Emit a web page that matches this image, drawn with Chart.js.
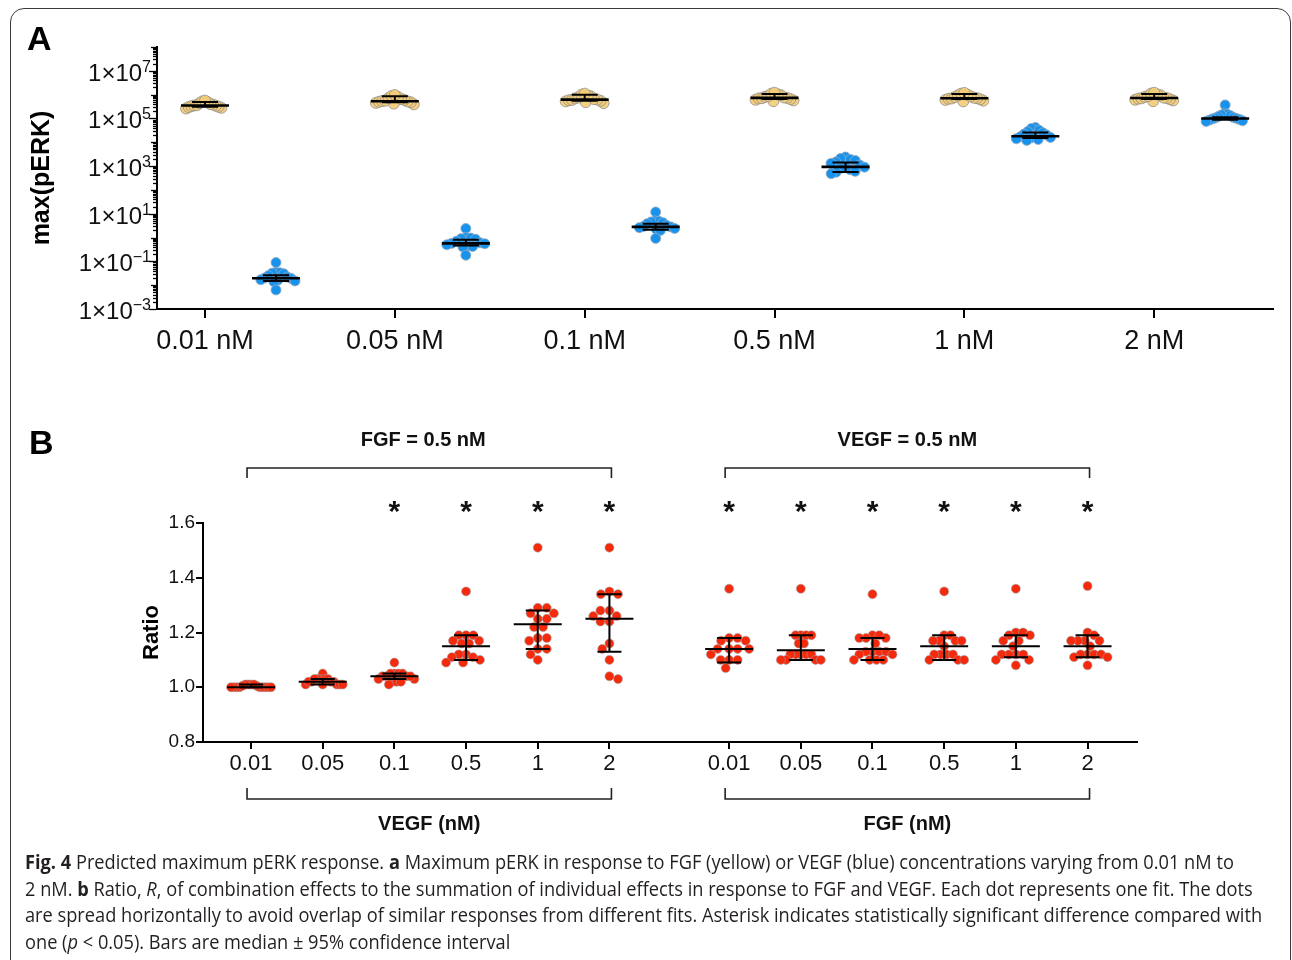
<!DOCTYPE html>
<html>
<head>
<meta charset="utf-8">
<script src="https://cdn.jsdelivr.net/npm/chart.js@4.4.1/dist/chart.umd.min.js"></script>
<style>
  html, body { margin: 0; padding: 0; background: #fff; }
  body { width: 1292px; height: 960px; position: relative; overflow: hidden; font-family: "Liberation Sans", Arial, sans-serif; }
  #frame { position: absolute; left: 10px; top: 8px; width: 1279px; height: 1000px; border: 1.5px solid #3a3a3a; border-radius: 14px; }
  canvas { position: absolute; left: 0; }
  #chartA { top: 0; }
  #chartB { top: 380px; }
  .panel { position: absolute; font-weight: bold; font-size: 34px; line-height: 1; color: #000; }
  #caption { position: absolute; left: 25px; top: 849px; font-family: "Open Sans", sans-serif; font-size: 19.5px; line-height: 26.7px; color: #231f20; transform-origin: 0 0; }
  #caption div { white-space: nowrap; }
</style>
</head>
<body>
<div id="frame"></div>
<canvas id="chartA" width="1292" height="380"></canvas>
<canvas id="chartB" width="1292" height="470"></canvas>
<div class="panel" style="left:27px; top:21px;">A</div>
<div class="panel" style="left:29px; top:425px;">B</div>
<div id="caption">
  <div id="capLine1"><b>Fig. 4</b> Predicted maximum pERK response. <b>a</b> Maximum pERK in response to FGF (yellow) or VEGF (blue) concentrations varying from 0.01 nM to</div>
  <div>2 nM. <b>b</b> Ratio, <i>R</i>, of combination effects to the summation of individual effects in response to FGF and VEGF. Each dot represents one fit. The dots</div>
  <div>are spread horizontally to avoid overlap of similar responses from different fits. Asterisk indicates statistically significant difference compared with</div>
  <div>one (<i>p</i> &lt; 0.05). Bars are median ± 95% confidence interval</div>
</div>
<script>
// ---- panel A: max(pERK) per concentration ----
const concLabels = ['0.01 nM', '0.05 nM', '0.1 nM', '0.5 nM', '1 nM', '2 nM'];
const logLabelExps = [-3, -1, 1, 3, 5, 7];

const fgfPoints = [
  [2.6e5, 2.8e5, 3.0e5, 3.1e5, 3.3e5, 3.4e5, 3.5e5, 3.6e5, 3.8e5, 4.0e5, 4.4e5, 4.8e5, 5.2e5, 5.6e5],
  [3.9e5, 4.2e5, 4.5e5, 4.8e5, 5.0e5, 5.2e5, 5.4e5, 5.6e5, 6.0e5, 6.5e5, 7.2e5, 8.0e5, 8.8e5, 9.6e5],
  [4.4e5, 4.8e5, 5.2e5, 5.5e5, 5.8e5, 6.0e5, 6.2e5, 6.5e5, 7.0e5, 7.6e5, 8.4e5, 9.2e5, 1.0e6, 1.1e6],
  [5.3e5, 5.7e5, 6.1e5, 6.5e5, 6.9e5, 7.1e5, 7.3e5, 7.6e5, 8.1e5, 8.7e5, 9.5e5, 1.03e6, 1.1e6, 1.2e6],
  [5.2e5, 5.6e5, 6.0e5, 6.4e5, 6.7e5, 6.9e5, 7.1e5, 7.4e5, 7.9e5, 8.5e5, 9.3e5, 1.0e6, 1.1e6, 1.18e6],
  [5.3e5, 5.7e5, 6.1e5, 6.4e5, 6.8e5, 7.0e5, 7.2e5, 7.5e5, 8.0e5, 8.6e5, 9.4e5, 1.02e6, 1.1e6, 1.2e6]
];
const fgfMedian = [3.5e5, 5.3e5, 6.2e5, 7.3e5, 7.1e5, 7.2e5];
const fgfLow = [3.1e5, 4.8e5, 5.6e5, 6.6e5, 6.5e5, 6.5e5];
const fgfHigh = [4.9e5, 8.5e5, 1.0e6, 1.07e6, 1.07e6, 1.07e6];

const vegfPoints = [
  [0.089, 0.035, 0.033, 0.032, 0.030, 0.025, 0.022, 0.020, 0.019, 0.017, 0.016, 0.015, 0.014, 0.0063],
  [2.4, 1.0, 0.95, 0.9, 0.85, 0.7, 0.6, 0.57, 0.55, 0.5, 0.45, 0.42, 0.4, 0.18],
  [11.8, 5.0, 4.8, 4.5, 4.2, 3.8, 3.2, 2.9, 2.8, 2.6, 2.4, 2.2, 2.0, 0.92],
  [2400, 2100, 1900, 1700, 1500, 1300, 1100, 950, 900, 800, 700, 600, 550, 480],
  [4.2e4, 3.8e4, 3.2e4, 2.8e4, 2.5e4, 2.2e4, 2.0e4, 1.8e4, 1.7e4, 1.6e4, 1.5e4, 1.4e4, 1.3e4, 1.2e4],
  [3.7e5, 1.6e5, 1.5e5, 1.4e5, 1.3e5, 1.2e5, 1.1e5, 1.05e5, 1.0e5, 0.95e5, 0.9e5, 0.85e5, 0.8e5, 0.75e5]
];
const vegfMedian = [0.0195, 0.57, 2.8, 930, 1.8e4, 1.0e5];
const vegfLow = [0.015, 0.46, 2.1, 560, 1.5e4, 0.88e5];
const vegfHigh = [0.026, 0.8, 3.8, 1420, 2.6e4, 1.12e5];

// ---- panel B: ratio ----
const doseLabels = ['0.01', '0.05', '0.1', '0.5', '1', '2'];
const fixedLabels = ['FGF = 0.5 nM', 'VEGF = 0.5 nM'];
const variedLabels = ['VEGF (nM)', 'FGF (nM)'];
const significant = [false, false, true, true, true, true, true, true, true, true, true, true];

const ratioPoints = [
  [1.00, 1.00, 1.00, 1.00, 1.00, 1.00, 1.00, 1.005, 1.01, 1.01, 1.01, 1.01, 1.00, 1.00, 1.005],
  [1.05, 1.03, 1.03, 1.03, 1.03, 1.02, 1.02, 1.02, 1.01, 1.01, 1.01, 1.01, 1.01, 1.02, 1.03],
  [1.09, 1.05, 1.05, 1.05, 1.05, 1.04, 1.04, 1.04, 1.03, 1.03, 1.02, 1.02, 1.02, 1.01, 1.04],
  [1.35, 1.19, 1.19, 1.19, 1.17, 1.17, 1.16, 1.16, 1.12, 1.12, 1.11, 1.11, 1.10, 1.09, 1.09],
  [1.51, 1.29, 1.29, 1.27, 1.27, 1.25, 1.25, 1.22, 1.22, 1.18, 1.18, 1.17, 1.14, 1.14, 1.12, 1.10],
  [1.51, 1.35, 1.34, 1.34, 1.28, 1.28, 1.26, 1.26, 1.24, 1.24, 1.16, 1.14, 1.10, 1.04, 1.03],
  [1.36, 1.18, 1.18, 1.17, 1.17, 1.14, 1.14, 1.14, 1.14, 1.12, 1.10, 1.10, 1.10, 1.07],
  [1.36, 1.19, 1.19, 1.19, 1.19, 1.16, 1.16, 1.12, 1.12, 1.12, 1.12, 1.12, 1.10, 1.10, 1.10, 1.10],
  [1.34, 1.19, 1.19, 1.18, 1.18, 1.18, 1.16, 1.13, 1.13, 1.13, 1.13, 1.12, 1.12, 1.10, 1.10, 1.10, 1.10],
  [1.35, 1.19, 1.19, 1.17, 1.17, 1.17, 1.17, 1.15, 1.12, 1.12, 1.12, 1.12, 1.10, 1.10, 1.10],
  [1.36, 1.20, 1.20, 1.19, 1.19, 1.17, 1.17, 1.15, 1.12, 1.12, 1.12, 1.12, 1.10, 1.10, 1.08],
  [1.37, 1.20, 1.19, 1.17, 1.17, 1.17, 1.17, 1.15, 1.12, 1.12, 1.12, 1.12, 1.11, 1.11, 1.08]
];
const ratioMedian = [1.00, 1.02, 1.04, 1.15, 1.23, 1.25, 1.14, 1.135, 1.14, 1.15, 1.15, 1.15];
const ratioLow = [1.00, 1.01, 1.03, 1.10, 1.14, 1.13, 1.09, 1.10, 1.10, 1.10, 1.11, 1.11];
const ratioHigh = [1.01, 1.03, 1.05, 1.19, 1.28, 1.34, 1.18, 1.19, 1.18, 1.19, 1.19, 1.19];

const VEGF_SHIFT = 0.374;   // blue group sits right of the yellow one
const GROUP_GAP = 0.67;     // extra space between the two halves of panel B
const groupPos = ratioPoints.map((_, i) => i < 6 ? i : i + GROUP_GAP);

const FONT = '"Liberation Sans", Arial, sans-serif';
const INK = '#111';

// spread points sideways so they don't sit on top of each other (beeswarm)
function swarm(chart, groups, centerOf, diam, maxHalf) {
  const xs = chart.scales.x, ys = chart.scales.y;
  const pxPerUnit = xs.getPixelForValue(1) - xs.getPixelForValue(0);
  const out = [];
  groups.forEach((vals, g) => {
    const pts = vals.map(v => ({ v, py: ys.getPixelForValue(v), px: 0 }));
    const placed = [];
    pts.slice().sort((a, b) => a.py - b.py).forEach((p, k) => {
      const cands = [0];
      placed.forEach(q => {
        const dy = Math.abs(q.py - p.py);
        if (dy < diam) {
          const dx = Math.sqrt(diam * diam - dy * dy) + 0.01;
          cands.push(q.px + dx, q.px - dx);
        }
      });
      const sgn = k % 2 ? -1 : 1;
      cands.sort((a, b) => (Math.abs(a) - Math.abs(b)) || (sgn * (b - a)));
      for (const c of cands) {
        if (placed.every(q => (q.px - c) ** 2 + (q.py - p.py) ** 2 >= diam * diam - 0.05)) { p.px = c; break; }
      }
      placed.push(p);
    });
    const m = Math.max(...pts.map(p => Math.abs(p.px)));
    const k = m > maxHalf ? maxHalf / m : 1;
    pts.forEach(p => out.push({ x: centerOf(g) + p.px * k / pxPerUnit, y: p.v }));
  });
  return out;
}

function drawErrorBars(chart, med, lo, hi, centerOf, medHalf, capHalf, medWidth, capWidth) {
  const { ctx, scales: { x, y } } = chart;
  ctx.save();
  ctx.strokeStyle = '#000';
  med.forEach((m, i) => {
    const cx = x.getPixelForValue(centerOf(i));
    const pm = y.getPixelForValue(m), pl = y.getPixelForValue(lo[i]), ph = y.getPixelForValue(hi[i]);
    ctx.lineWidth = capWidth;
    ctx.beginPath();
    ctx.moveTo(cx - capHalf, pl); ctx.lineTo(cx + capHalf, pl);
    ctx.moveTo(cx - capHalf, ph); ctx.lineTo(cx + capHalf, ph);
    ctx.moveTo(cx, pl); ctx.lineTo(cx, ph);
    ctx.stroke();
    ctx.lineWidth = medWidth;
    ctx.beginPath();
    ctx.moveTo(cx - medHalf, pm); ctx.lineTo(cx + medHalf, pm);
    ctx.stroke();
  });
  ctx.restore();
}

// log axis of panel A: minor ticks + 1x10^n labels with superscripts
const logAxisA = {
  id: 'logAxisA',
  afterDraw(chart) {
    const { ctx, scales: { y }, chartArea } = chart;
    const ax = chartArea.left - 1;
    ctx.save();
    ctx.strokeStyle = '#000';
    ctx.lineWidth = 1.3;
    for (let e = -3; e <= 8; e++) {
      for (let m = 1; m <= 9; m++) {
        const v = m * Math.pow(10, e);
        if (v > 1e8) break;
        const py = Math.round(y.getPixelForValue(v)) + 0.5;
        const len = m === 1 ? (logLabelExps.includes(e) ? 7 : 5) : 3;
        ctx.beginPath(); ctx.moveTo(ax - len, py); ctx.lineTo(ax, py); ctx.stroke();
      }
    }
    ctx.fillStyle = INK;
    ctx.textBaseline = 'alphabetic';
    ctx.textAlign = 'left';
    const baseFont = '24px ' + FONT, supFont = '16px ' + FONT;
    logLabelExps.forEach(e => {
      const py = y.getPixelForValue(Math.pow(10, e));
      const sup = String(e).replace('-', '\u2212');
      ctx.font = supFont; const sw = ctx.measureText(sup).width;
      ctx.font = baseFont; const bw = ctx.measureText('1×10').width;
      const right = ax - 5;
      ctx.fillText('1×10', right - sw - bw, py + 10);
      ctx.font = supFont;
      ctx.fillText(sup, right - sw, py + 1);
    });
    ctx.restore();
  }
};

const barsA = {
  id: 'barsA',
  afterDatasetsDraw(chart) {
    drawErrorBars(chart, fgfMedian, fgfLow, fgfHigh, i => i, 24, 13, 2.6, 2);
    drawErrorBars(chart, vegfMedian, vegfLow, vegfHigh, i => i + VEGF_SHIFT, 24, 13, 2.6, 2);
  }
};

const chartA = new Chart(document.getElementById('chartA'), {
  type: 'scatter',
  data: {
    datasets: [
      { label: 'FGF', data: [], backgroundColor: 'rgba(243, 204, 120, 0.92)', borderColor: 'rgba(140, 140, 140, 0.75)', borderWidth: 1, pointRadius: 5.5 },
      { label: 'VEGF', data: [], backgroundColor: '#1793ee', borderColor: 'rgba(150, 170, 190, 0.8)', borderWidth: 1, pointRadius: 5 }
    ]
  },
  options: {
    responsive: false,
    animation: false,
    events: [],
    layout: { padding: { top: 47, right: 19, left: 0, bottom: 0 } },
    plugins: { legend: { display: false }, tooltip: { enabled: false } },
    scales: {
      x: {
        type: 'linear', min: -0.253, max: 5.626,
        afterBuildTicks: s => { s.ticks = concLabels.map((_, i) => ({ value: i })); },
        ticks: { callback: v => concLabels[v], font: { family: FONT, size: 27 }, color: INK, padding: 7, autoSkip: false, maxRotation: 0 },
        grid: { drawOnChartArea: false, tickLength: 9, color: '#000', lineWidth: 2 },
        border: { color: '#000', width: 2 },
        afterFit: s => { s.height = 71; }
      },
      y: {
        type: 'logarithmic', min: 1e-3, max: 1e8,
        ticks: { display: false },
        grid: { display: false },
        border: { color: '#000', width: 2 },
        title: { display: true, text: 'max(pERK)', color: '#000', font: { family: FONT, size: 25, weight: 'bold' }, padding: { top: 27, bottom: 0 } },
        afterFit: s => { s.width = 157; }
      }
    }
  },
  plugins: [logAxisA, barsA]
});
chartA.data.datasets[0].data = swarm(chartA, fgfPoints, i => i, 9, 19);
chartA.data.datasets[1].data = swarm(chartA, vegfPoints, i => i + VEGF_SHIFT, 9, 19);
chartA.update('none');

// brackets, group titles and asterisks of panel B
const annotB = {
  id: 'annotB',
  afterDraw(chart) {
    const { ctx, scales: { x }, chartArea } = chart;
    ctx.save();
    ctx.strokeStyle = '#222';
    ctx.lineWidth = 1.6;
    ctx.fillStyle = INK;
    ctx.textAlign = 'center';
    [0, 1].forEach(h => {
      const x0 = x.getPixelForValue(groupPos[h * 6]) - 4;
      const x1 = x.getPixelForValue(groupPos[h * 6 + 5]) + 2;
      const mid = (x0 + x1) / 2;
      const yt = chartArea.top - 55;
      ctx.beginPath();
      ctx.moveTo(x0, yt + 10); ctx.lineTo(x0, yt); ctx.lineTo(x1, yt); ctx.lineTo(x1, yt + 10);
      ctx.stroke();
      const yb = chartArea.bottom + 57;
      ctx.beginPath();
      ctx.moveTo(x0, yb - 11); ctx.lineTo(x0, yb); ctx.lineTo(x1, yb); ctx.lineTo(x1, yb - 11);
      ctx.stroke();
      ctx.font = 'bold 20px ' + FONT;
      ctx.textBaseline = 'middle';
      ctx.fillText(fixedLabels[h], mid - (h === 0 ? 6 : 0), chartArea.top - 83);
      ctx.fillText(variedLabels[h], mid, chartArea.bottom + 82);
    });
    ctx.font = 'bold 30px ' + FONT;
    ctx.textBaseline = 'alphabetic';
    significant.forEach((s, i) => {
      if (s) ctx.fillText('*', x.getPixelForValue(groupPos[i]), chartArea.top - 2);
    });
    ctx.restore();
  }
};

const barsB = {
  id: 'barsB',
  afterDatasetsDraw(chart) {
    drawErrorBars(chart, ratioMedian, ratioLow, ratioHigh, i => groupPos[i], 24, 12, 2, 2);
  }
};

const chartB = new Chart(document.getElementById('chartB'), {
  type: 'scatter',
  data: {
    datasets: [
      { label: 'Ratio', data: [], backgroundColor: '#f52a0c', borderColor: 'rgba(160, 160, 160, 0.7)', borderWidth: 0.8, pointRadius: 4.5 }
    ]
  },
  options: {
    responsive: false,
    animation: false,
    events: [],
    layout: { padding: { top: 143, right: 155, left: 0, bottom: 0 } },
    plugins: { legend: { display: false }, tooltip: { enabled: false } },
    scales: {
      x: {
        type: 'linear', min: -0.67, max: 12.36,
        afterBuildTicks: s => { s.ticks = groupPos.map(v => ({ value: v })); },
        ticks: { callback: (v, i) => doseLabels[i % 6], font: { family: FONT, size: 22 }, color: INK, padding: 2, autoSkip: false, maxRotation: 0 },
        grid: { drawOnChartArea: false, tickLength: 7, color: '#000', lineWidth: 2 },
        border: { color: '#000', width: 2 },
        afterFit: s => { s.height = 108; }
      },
      y: {
        type: 'linear', min: 0.8, max: 1.6,
        ticks: { stepSize: 0.2, callback: v => v.toFixed(1), font: { family: FONT, size: 19 }, color: INK, padding: 1 },
        grid: { drawOnChartArea: false, tickLength: 7, color: '#000', lineWidth: 2 },
        border: { color: '#000', width: 2 },
        title: { display: true, text: 'Ratio', color: '#000', font: { family: FONT, size: 22, weight: 'bold' }, padding: { top: 139, bottom: 0 } },
        afterFit: s => { s.width = 203; }
      }
    }
  },
  plugins: [annotB, barsB]
});
chartB.data.datasets[0].data = swarm(chartB, ratioPoints, i => groupPos[i], 9, 20);
chartB.update('none');

// squeeze the caption to the reference line length
const cap = document.getElementById('caption');
const line1 = document.getElementById('capLine1');
const s = 1237 / line1.scrollWidth;
cap.style.transform = 'scaleX(' + s + ')';
</script>
</body>
</html>
